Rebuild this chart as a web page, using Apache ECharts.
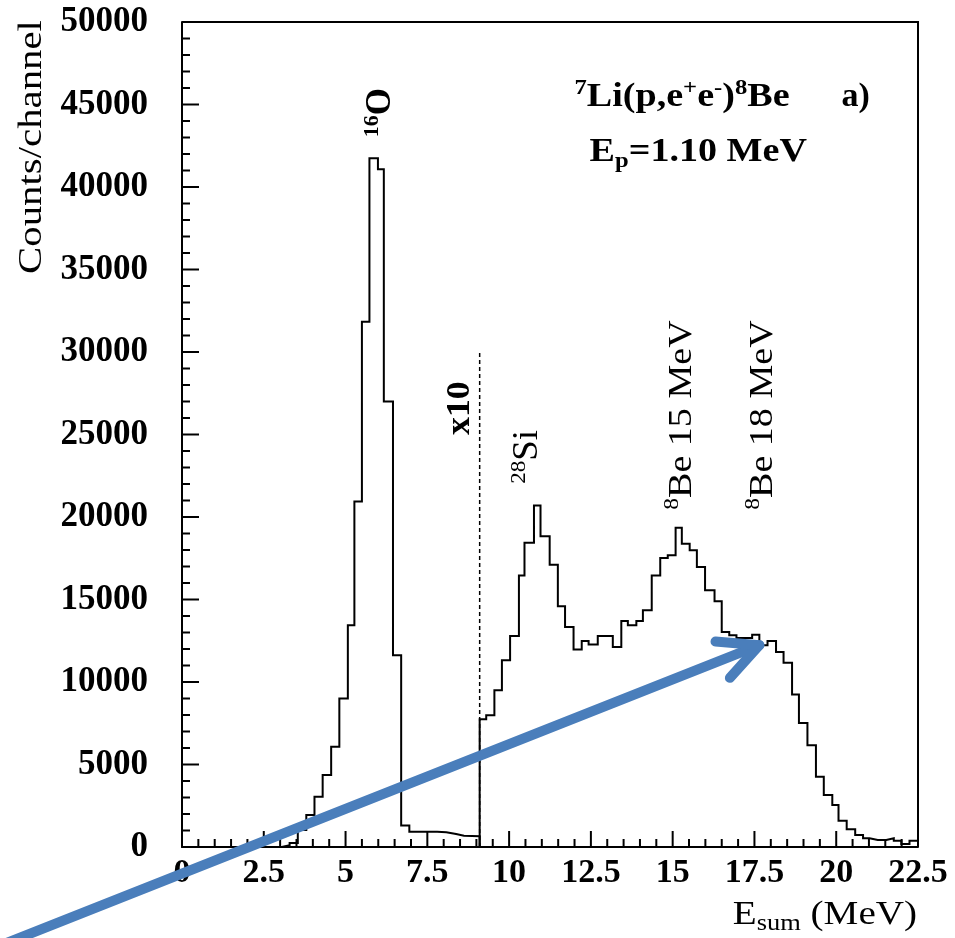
<!DOCTYPE html>
<html>
<head>
<meta charset="utf-8">
<script src="https://cdn.jsdelivr.net/npm/echarts@6/dist/echarts.min.js"></script>
<style>
html,body{margin:0;padding:0;background:#ffffff;}
#chart{width:955px;height:938px;}
</style>
</head>
<body>
<div id="chart"></div>
<script>
// ---------------- data ----------------
// tick labels
const xTickValues = [0, 2.5, 5, 7.5, 10, 12.5, 15, 17.5, 20, 22.5];
const yTickValues = [0, 5000, 10000, 15000, 20000, 25000, 30000, 35000, 40000, 45000, 50000];
const minorPerMajor = 5;

// 16O region, drawn at true scale: bin edges (MeV) and counts per bin
const oBinEdges = [3.05, 3.29, 3.54, 3.80, 4.05, 4.30, 4.56, 4.81, 5.07, 5.27, 5.50, 5.73, 5.99, 6.17, 6.45, 6.70, 6.95, 7.20, 7.51, 7.80, 8.08, 8.38, 8.62, 8.86, 9.10];
const oCounts   = [100, 250, 1030, 1940, 3040, 4360, 6070, 9000, 13440, 20940, 31840, 41750, 41080, 27000, 11620, 1300, 930, 930, 930, 900, 790, 680, 660, 650];

// region above 9.1 MeV, drawn multiplied by 10: bin edges (MeV) and displayed counts
const x10BinEdges = [9.10, 9.30, 9.55, 9.78, 10.03, 10.30, 10.47, 10.76, 10.96, 11.24, 11.49, 11.71, 11.97, 12.22, 12.43, 12.71, 12.94, 13.17, 13.43, 13.63, 13.89, 14.09, 14.36, 14.62, 14.85, 15.09, 15.28, 15.52, 15.74, 15.99, 16.28, 16.50, 16.73, 16.95, 17.19, 17.43, 17.65, 17.90, 18.16, 18.39, 18.65, 18.86, 19.12, 19.38, 19.62, 19.88, 20.07, 20.32, 20.58, 20.82, 21.02, 21.27, 21.53, 21.76, 21.99, 22.24, 22.50];
const x10Counts   = [7750, 7990, 9500, 11320, 12790, 16460, 18440, 20700, 18830, 17110, 14590, 13340, 11970, 12490, 12270, 12790, 12790, 12120, 13700, 13440, 13700, 14350, 16460, 17520, 17680, 19350, 18380, 17980, 16970, 15560, 14890, 13030, 12830, 12670, 12670, 12870, 12230, 12490, 11820, 11160, 9240, 7520, 6170, 4260, 3150, 2540, 1590, 1070, 730, 530, 420, 420, 530, 380, 180, 380];

// dashed "x10" divider: energy and top value
const dividerEnergy = 9.10;
const dividerTop = 30000;

// annotation anchors in data coordinates
const peakLabels = [
  { text: '{s|16}{m|O}',            at: [6.08, 44500],  weight: 'bold',   size: 35, stretch: 1.0 },
  { text: '{m|x10}',                at: [8.50, 26600],  weight: 'bold',   size: 34, stretch: 1.05 },
  { text: '{s|28}{m|Si}',           at: [10.58, 23640], weight: 'normal', size: 35, stretch: 1.05 },
  { text: '{s|8}{m|Be 15 MeV}',     at: [15.30, 26180], weight: 'normal', size: 34, stretch: 1.12 },
  { text: '{s|8}{m|Be 18 MeV}',     at: [17.75, 26180], weight: 'normal', size: 34, stretch: 1.12 }
];
const arrowFrom = [-5.43, -5870];
const arrowTo = [17.65, 12230];

// ---------------- chart ----------------
const FONT = "'Liberation Serif', 'Times New Roman', serif";

function stepPoints(edges, counts) {
  const pts = [[edges[0], 0]];
  for (let i = 0; i < counts.length; i++) {
    pts.push([edges[i], counts[i]]);
    pts.push([edges[i + 1], counts[i]]);
  }
  pts.push([edges[edges.length - 1], 0]);
  return pts;
}

const chart = echarts.init(document.getElementById('chart'), null, { renderer: 'canvas' });

const xMin = xTickValues[0], xMax = xTickValues[xTickValues.length - 1];
const yMin = yTickValues[0], yMax = yTickValues[yTickValues.length - 1];
const xInterval = xTickValues[1] - xTickValues[0];
const yInterval = yTickValues[1] - yTickValues[0];

chart.setOption({
  animation: false,
  backgroundColor: '#ffffff',
  grid: { left: 182, right: 37, top: 22, bottom: 91, show: false },
  xAxis: {
    type: 'value', min: xMin, max: xMax, interval: xInterval,
    axisLine: { show: true, onZero: false, lineStyle: { color: '#000', width: 2 } },
    axisTick: { show: false },
    splitLine: { show: false },
    axisLabel: {
      show: true, margin: 9, color: '#000', fontFamily: FONT, fontWeight: 'bold', fontSize: 34,
      showMinLabel: true, showMaxLabel: true,
      formatter: v => String(v)
    }
  },
  yAxis: {
    type: 'value', min: yMin, max: yMax, interval: yInterval,
    axisLine: { show: true, onZero: false, lineStyle: { color: '#000', width: 2 } },
    axisTick: { show: false },
    splitLine: { show: false },
    axisLabel: {
      show: true, margin: 34, color: '#000', fontFamily: FONT, fontWeight: 'bold', fontSize: 35,
      showMinLabel: true, showMaxLabel: true,
      formatter: v => String(v)
    }
  },
  series: [
    {
      name: '16O region', type: 'line', data: stepPoints(oBinEdges, oCounts),
      showSymbol: false, symbol: 'none', clip: false,
      lineStyle: { color: '#000', width: 2, join: 'miter' }, z: 3
    },
    {
      name: 'x10 region', type: 'line', data: stepPoints(x10BinEdges, x10Counts),
      showSymbol: false, symbol: 'none', clip: false,
      lineStyle: { color: '#000', width: 2, join: 'miter' }, z: 3
    },
    {
      name: 'divider', type: 'line', data: [[dividerEnergy, 0], [dividerEnergy, dividerTop]],
      showSymbol: false, symbol: 'none',
      lineStyle: { color: '#000', width: 1.5, type: [4, 3] }, z: 2
    }
  ]
});

function px(p) { return chart.convertToPixel({ gridIndex: 0 }, p); }

const graphics = [];

// frame: top and right edges
const cTL = px([xMin, yMax]), cTR = px([xMax, yMax]), cBR = px([xMax, yMin]);
graphics.push({
  type: 'polyline', z: 25, silent: true,
  shape: { points: [cTL, cTR, cBR] },
  style: { stroke: '#000000', lineWidth: 2, fill: null, lineJoin: 'miter' }
});

// inward ticks (major + minor) along the bottom and left axes
function tick(a, b) {
  graphics.push({ type: 'polyline', z: 26, silent: true, shape: { points: [a, b] }, style: { stroke: '#000000', lineWidth: 2, fill: null } });
}
for (let i = 0; i < xTickValues.length; i++) {
  const p = px([xTickValues[i], yMin]);
  tick([p[0], p[1]], [p[0], p[1] - 16]);
  if (i < xTickValues.length - 1) {
    for (let k = 1; k < minorPerMajor; k++) {
      const v = xTickValues[i] + (xTickValues[i + 1] - xTickValues[i]) * k / minorPerMajor;
      const q = px([v, yMin]);
      tick([q[0], q[1]], [q[0], q[1] - 8]);
    }
  }
}
for (let i = 0; i < yTickValues.length; i++) {
  const p = px([xMin, yTickValues[i]]);
  tick([p[0], p[1]], [p[0] + 17, p[1]]);
  if (i < yTickValues.length - 1) {
    for (let k = 1; k < minorPerMajor; k++) {
      const v = yTickValues[i] + (yTickValues[i + 1] - yTickValues[i]) * k / minorPerMajor;
      const q = px([xMin, v]);
      tick([q[0], q[1]], [q[0] + 8, q[1]]);
    }
  }
}

// rotated peak labels
peakLabels.forEach(l => {
  const p = px(l.at);
  graphics.push({
    type: 'text', x: p[0], y: p[1], rotation: Math.PI / 2, scaleX: l.stretch, z: 20,
    style: {
      text: l.text, align: 'center', verticalAlign: 'middle', fill: '#000',
      rich: {
        m: { fontFamily: FONT, fontWeight: l.weight, fontSize: l.size, lineHeight: 40, fill: '#000' },
        s: { fontFamily: FONT, fontWeight: l.weight, fontSize: Math.round(l.size * 0.62), lineHeight: 30, verticalAlign: 'top', fill: '#000' }
      }
    }
  });
});

// reaction title and label
const titlePos = px([12.0, 45420]);
graphics.push({
  type: 'text', x: titlePos[0], y: titlePos[1], scaleX: 1.12, z: 20,
  style: {
    text: '{s|7}{m|Li(p,e}{s|+}{m|e}{s|-}{m|)}{s|8}{m|Be}', align: 'left', verticalAlign: 'middle', fill: '#000',
    rich: {
      m: { fontFamily: FONT, fontWeight: 'bold', fontSize: 34, lineHeight: 40, fill: '#000' },
      s: { fontFamily: FONT, fontWeight: 'bold', fontSize: 22, lineHeight: 28, verticalAlign: 'top', fill: '#000' }
    }
  }
});
const aPos = px([20.16, 45420]);
graphics.push({
  type: 'text', x: aPos[0], y: aPos[1], z: 20,
  style: { text: 'a)', align: 'left', verticalAlign: 'middle', fill: '#000', fontFamily: FONT, fontWeight: 'bold', fontSize: 34 }
});
const epPos = px([12.46, 42090]);
graphics.push({
  type: 'text', x: epPos[0], y: epPos[1], scaleX: 1.12, z: 20,
  style: {
    text: '{m|E}{b|p}{m|=1.10 MeV}', align: 'left', verticalAlign: 'middle', fill: '#000',
    rich: {
      m: { fontFamily: FONT, fontWeight: 'bold', fontSize: 34, lineHeight: 40, fill: '#000' },
      b: { fontFamily: FONT, fontWeight: 'bold', fontSize: 22, lineHeight: 14, verticalAlign: 'bottom', fill: '#000' }
    }
  }
});

// axis titles
graphics.push({
  type: 'text', x: 917, y: 915, scaleX: 1.15, z: 20,
  style: {
    text: '{m|E}{b|sum}{m| (MeV)}', align: 'right', verticalAlign: 'middle', fill: '#000',
    rich: {
      m: { fontFamily: FONT, fontSize: 34, lineHeight: 40, fill: '#000' },
      b: { fontFamily: FONT, fontSize: 23, lineHeight: 14, verticalAlign: 'bottom', fill: '#000' }
    }
  }
});
graphics.push({
  type: 'text', x: 32, y: 147, rotation: Math.PI / 2, scaleX: 1.2, z: 20,
  style: { text: 'Counts/channel', align: 'center', verticalAlign: 'middle', fill: '#000', fontFamily: FONT, fontSize: 34 }
});

// blue arrow annotation
const a0 = px(arrowFrom), a1 = px(arrowTo);
const back = Math.atan2(a0[1] - a1[1], a0[0] - a1[0]);
const armLen = 44, spread = 0.46;
const arm1 = [a1[0] + armLen * Math.cos(back + spread), a1[1] + armLen * Math.sin(back + spread)];
const arm2 = [a1[0] + armLen * Math.cos(back - spread), a1[1] + armLen * Math.sin(back - spread)];
graphics.push({
  type: 'line', z: 30,
  shape: { x1: a0[0], y1: a0[1], x2: a1[0], y2: a1[1] },
  style: { stroke: '#4a7ebb', lineWidth: 10, lineCap: 'round' }
});
graphics.push({
  type: 'polyline', z: 30,
  shape: { points: [arm1, a1, arm2] },
  style: { stroke: '#4a7ebb', lineWidth: 10, lineCap: 'round', lineJoin: 'round', fill: null }
});

chart.setOption({ graphic: graphics });
</script>
</body>
</html>
